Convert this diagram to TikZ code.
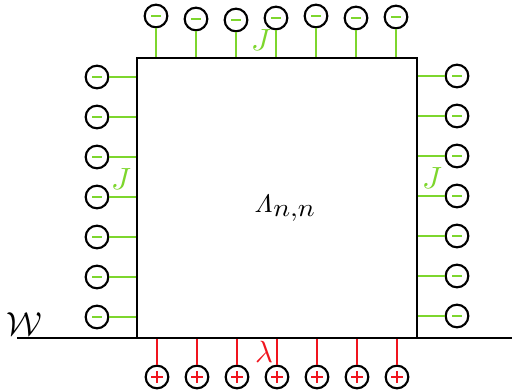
\documentclass[tikz,border=0pt]{standalone}
\usepackage{amsmath,amssymb}
\usepackage{tikz}
\usetikzlibrary{calc}
\definecolor{jgreen}{RGB}{125,214,45}
\definecolor{lred}{RGB}{240,20,30}

\begin{document}
\begin{tikzpicture}[
  x=0.75pt,y=-0.75pt,
  site/.style={circle,draw=black,line width=1.6pt,minimum size=17pt,inner sep=0pt},
  anion/.style={site,path picture={\draw[jgreen,line width=1.3pt]
      ([xshift=-3.6pt]path picture bounding box.center) -- ([xshift=3.6pt]path picture bounding box.center);}},
  cation/.style={site,path picture={\draw[lred,line width=1.3pt]
      ([xshift=-4.4pt]path picture bounding box.center) -- ([xshift=4.4pt]path picture bounding box.center)
      ([yshift=-4.4pt]path picture bounding box.center) -- ([yshift=4.4pt]path picture bounding box.center);}},
  latbox/.style={draw,line width=1.6pt,minimum width=210pt,minimum height=210pt,inner sep=0pt},
  jl/.style={jgreen,line width=1.4pt},
  ll/.style={lred,line width=1.4pt},
  lbl/.style={inner sep=0pt},
  ]
  \useasboundingbox (0,0) rectangle (512,391);
  \node[latbox] (lat) at (277,198) {};
  \node[lbl] (Lam) at (285,208) {\scalebox{2.1}[1.9]{$\mathit{\Lambda}_{\textstyle n{,}n}$}};
  \coordinate (wl) at (17,338);
  \coordinate (wr) at (512,338);
  \draw[line width=1.6pt] (wl) -- (wr);
  \node[lbl] (W) at (24,324) {\scalebox{2.5}{$\mathcal{W}$}};
  \foreach \i/\x/\y in {1/156/16,2/196/19,3/236/20,4/276/18,5/316/16,6/356/18,7/396/17}{
    \node[anion] (t\i) at (\x,\y) {};
    \draw[jl] (t\i) -- (t\i |- lat.north);
  }
  \foreach \i in {1,...,7}{
    \node[anion] (l\i) at (97,37+40*\i) {};
    \draw[jl] (l\i) -- (l\i -| lat.west);
    \node[anion] (r\i) at (457,36+40*\i) {};
    \draw[jl] (r\i) -- (r\i -| lat.east);
    \node[cation] (b\i) at (117+40*\i,377) {};
    \draw[ll] (b\i) -- (b\i |- lat.south);
  }
  \node[lbl,text=jgreen] (Jt) at (261,40) {\scalebox{2.3}{$J$}};
  \node[lbl,text=jgreen] (Jl) at (121,179) {\scalebox{2.3}{$J$}};
  \node[lbl,text=jgreen] (Jr) at (432,178) {\scalebox{2.3}{$J$}};
  \node[lbl,text=lred] (lam) at (264,352) {\scalebox{2.3}{$\lambda$}};
\end{tikzpicture}
\end{document}
